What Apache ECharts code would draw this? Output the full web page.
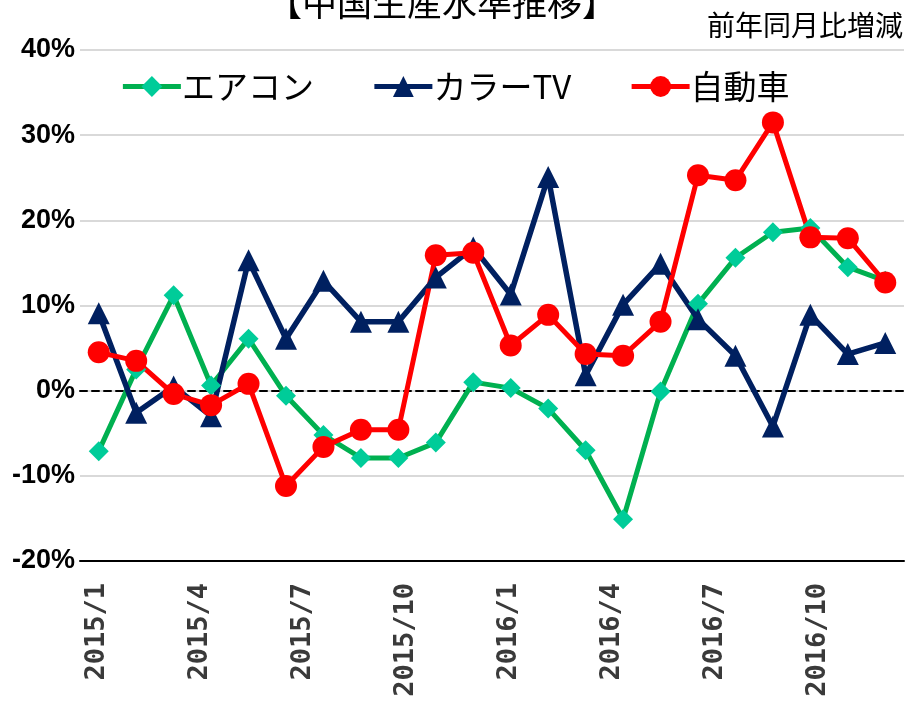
<!DOCTYPE html>
<html>
<head>
<meta charset="utf-8">
<script src="https://cdn.jsdelivr.net/npm/echarts@6/dist/echarts.min.js"></script>
<style>
  html, body { margin: 0; padding: 0; background: #fff; }
  #chart { width: 910px; height: 702px; }
</style>
</head>
<body>
<div id="chart"></div>
<script>
// months the series are plotted on
const months = [
  '2015/1', '2015/2', '2015/3', '2015/4', '2015/5', '2015/6',
  '2015/7', '2015/8', '2015/9', '2015/10', '2015/11', '2015/12',
  '2016/1', '2016/2', '2016/3', '2016/4', '2016/5', '2016/6',
  '2016/7', '2016/8', '2016/9', '2016/10'
];
// month labels printed under the chart
const tickMonths = [
  '2015/1', '2015/2', '2015/3', '2015/4', '2015/5', '2015/6',
  '2015/7', '2015/8', '2015/9', '2015/10', '2015/11', '2015/12',
  '2016/1', '2016/2', '2016/3', '2016/4', '2016/5', '2016/6',
  '2016/7', '2016/8', '2016/9', '2016/10', '2016/11', '2016/12'
];

// 前年同月比 (%)
const aircon = [-7.1, 2.5, 11.2, 0.6, 6.1, -0.6, -5.2, -7.9, -7.9, -6.1, 1.0, 0.3,
  -2.1, -7.0, -15.1, -0.1, 10.2, 15.6, 18.6, 19.1, 14.5, 12.9];
const colorTv = [9.1, -2.6, 0.5, -3.0, 15.3, 6.1, 12.9, 8.1, 8.1, 13.3, 16.8, 11.3,
  25.1, 1.8, 10.1, 14.9, 8.4, 4.1, -4.2, 8.9, 4.3, 5.6];
const cars = [4.5, 3.5, -0.4, -1.7, 0.8, -11.2, -6.6, -4.6, -4.6, 15.9, 16.2, 5.3,
  8.9, 4.3, 4.1, 8.1, 25.3, 24.7, 31.5, 18.0, 17.9, 12.7];

const jpFont = '"Noto Sans CJK JP", sans-serif';

const chart = echarts.init(document.getElementById('chart'), null, { renderer: 'canvas' });

const option = {
  animation: false,
  backgroundColor: '#fff',
  graphic: [
    {
      type: 'text',
      style: {
        x: 442, y: 3,
        text: '【中国生産水準推移】',
        align: 'center', verticalAlign: 'middle',
        font: '35px ' + jpFont,
        fill: '#000'
      }
    },
    {
      type: 'text',
      style: {
        x: 903, y: 25,
        text: '前年同月比増減',
        align: 'right', verticalAlign: 'middle',
        font: '28px ' + jpFont,
        fill: '#000'
      }
    }
  ],
  legend: {
    left: 'center',
    top: 65,
    itemWidth: 58,
    itemHeight: 26,
    itemGap: 58,
    lineStyle: { width: 5 },
    textStyle: { fontFamily: jpFont, fontSize: 33, color: '#000', padding: [0, 0, 0, -4] },
    data: ['エアコン', 'カラーTV', '自動車']
  },
  grid: { left: 80, right: 6, top: 50, bottom: 141 },
  xAxis: [
    {
      // data axis, its line is the dashed zero line
      type: 'category',
      data: months,
      position: 'top',
      boundaryGap: true,
      axisLine: { onZero: true, lineStyle: { color: '#000', width: 2, type: [7, 5] } },
      axisTick: { show: false },
      axisLabel: { show: false },
      splitLine: { show: false }
    },
    {
      // month labels
      type: 'category',
      data: tickMonths,
      position: 'bottom',
      boundaryGap: true,
      axisLine: { onZero: false, lineStyle: { color: '#000', width: 2 } },
      axisTick: { show: false },
      axisLabel: {
        interval: 2,
        rotate: 90,
        margin: 22,
        color: '#3a3a3a',
        fontFamily: '"DejaVu Sans Mono", monospace',
        fontWeight: 'bold',
        fontSize: 27
      },
      splitLine: { show: false }
    }
  ],
  yAxis: {
    type: 'value',
    min: -20,
    max: 40,
    interval: 10,
    axisLine: { show: false },
    axisTick: { show: false },
    axisLabel: {
      formatter: '{value}%',
      margin: 5,
      color: '#000',
      fontFamily: '"Liberation Sans", Arial, sans-serif',
      fontWeight: 'bold',
      fontSize: 27
    },
    splitLine: { lineStyle: { color: '#d9d9d9', width: 2 } }
  },
  series: [
    {
      name: 'エアコン',
      type: 'line',
      xAxisIndex: 0,
      data: aircon,
      symbol: 'diamond',
      symbolSize: 20,
      showAllSymbol: true,
      lineStyle: { color: '#00B050', width: 5 },
      itemStyle: { color: '#00CC99', borderWidth: 0 }
    },
    {
      name: 'カラーTV',
      type: 'line',
      xAxisIndex: 0,
      data: colorTv,
      symbol: 'triangle',
      symbolSize: 22,
      showAllSymbol: true,
      lineStyle: { color: '#002060', width: 5.5 },
      itemStyle: { color: '#002060', borderWidth: 0 }
    },
    {
      name: '自動車',
      type: 'line',
      xAxisIndex: 0,
      data: cars,
      symbol: 'circle',
      symbolSize: 22,
      showAllSymbol: true,
      lineStyle: { color: '#FF0000', width: 5 },
      itemStyle: { color: '#FF0000', borderWidth: 0 }
    }
  ]
};

chart.setOption(option);
</script>
</body>
</html>
